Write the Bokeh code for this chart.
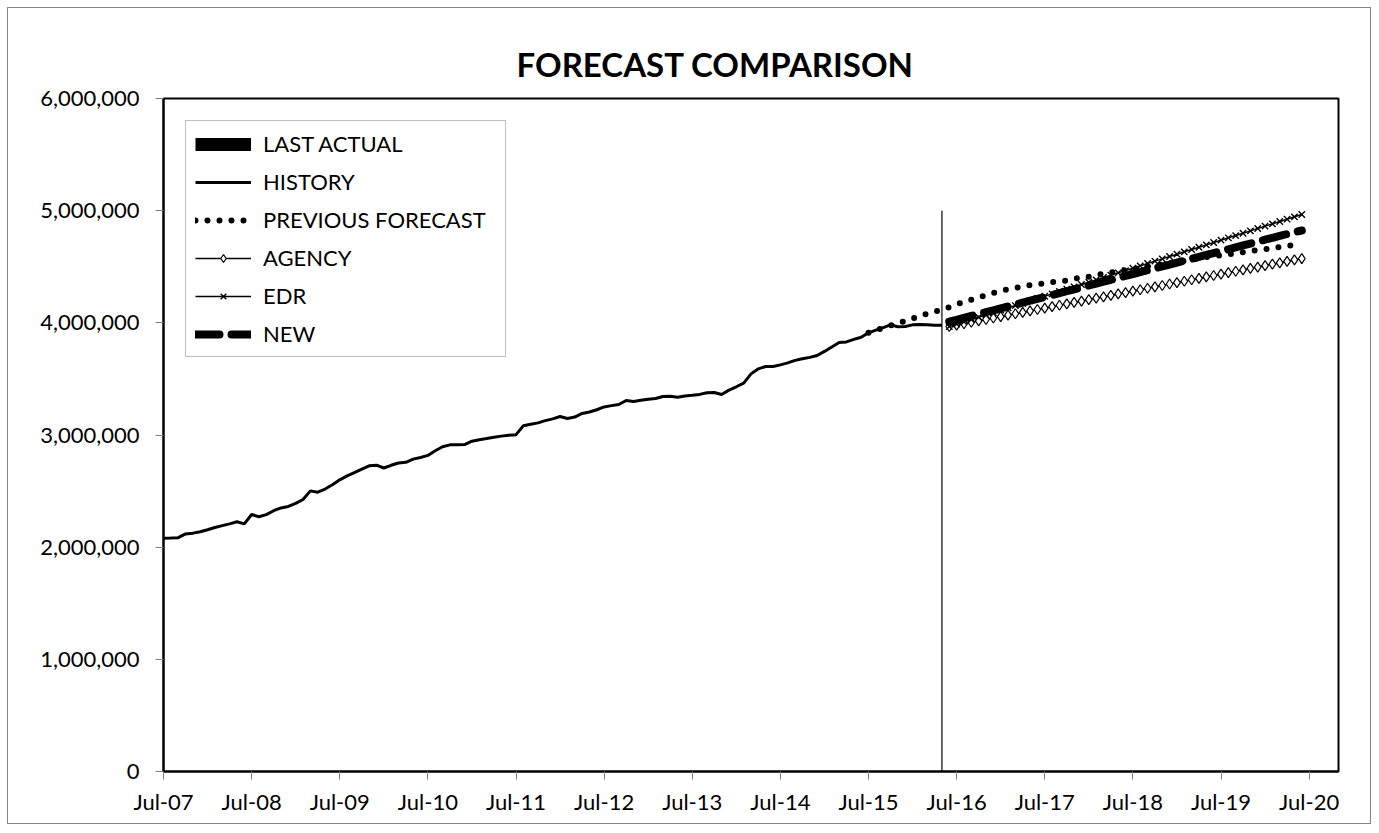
from bokeh.plotting import figure
from bokeh.models import Range1d, FixedTicker, NumeralTickFormatter, Legend, LegendItem
from bokeh.embed import file_html
from bokeh.resources import INLINE

# ---------------- data ----------------
x_tick_labels = ["Jul-07", "Jul-08", "Jul-09", "Jul-10", "Jul-11", "Jul-12", "Jul-13",
                 "Jul-14", "Jul-15", "Jul-16", "Jul-17", "Jul-18", "Jul-19", "Jul-20"]
y_ticks = [0, 1000000, 2000000, 3000000, 4000000, 5000000, 6000000]

# monthly, starting Jul-07 (month index 0)
history_start = 0
history = [2080000, 2082000, 2085000, 2118000, 2125000, 2138000, 2155000, 2175000, 2192000, 2208000,
           2226000, 2208000, 2291000, 2271000, 2290000, 2325000, 2350000, 2363000, 2390000, 2425000,
           2502000, 2490000, 2518000, 2556000, 2600000, 2635000, 2665000, 2695000, 2725000, 2731000,
           2706000, 2730000, 2750000, 2757000, 2785000, 2800000, 2818000, 2860000, 2895000, 2912000,
           2914000, 2915000, 2945000, 2958000, 2968000, 2980000, 2990000, 2998000, 3003000, 3082000,
           3095000, 3108000, 3128000, 3144000, 3165000, 3147000, 3160000, 3192000, 3205000, 3225000,
           3250000, 3262000, 3272000, 3308000, 3299000, 3310000, 3318000, 3325000, 3343000, 3346000,
           3337000, 3347000, 3354000, 3362000, 3376000, 3379000, 3361000, 3400000, 3430000, 3462000,
           3545000, 3590000, 3611000, 3611000, 3625000, 3643000, 3665000, 3680000, 3692000, 3709000,
           3745000, 3785000, 3825000, 3830000, 3852000, 3872000, 3911000, 3935000, 3958000, 3982000,
           3965000, 3968000, 3982000, 3985000, 3983000, 3979000, 3979000]

# previous forecast, starting Jul-15 (month index 96)
previous_start = 96
previous = [3911000, 3935000, 3955000, 3975000, 3998000, 4015000, 4038000, 4060000, 4082000, 4100000,
            4119000, 4140000, 4165000, 4186000, 4207000, 4226000, 4248000, 4266000, 4285000, 4298000,
            4309000, 4325000, 4335000, 4345000, 4352000, 4362000, 4370000, 4377000, 4392000, 4405000,
            4412000, 4425000, 4437000, 4448000, 4459000, 4470000, 4480000, 4491000, 4502000, 4512000,
            4522000, 4533000, 4543000, 4553000, 4563000, 4575000, 4585000, 4593000, 4603000, 4612000,
            4620000, 4630000, 4640000, 4648000, 4656000, 4666000, 4675000, 4684000, 4694000, 4703000]

# new forecasts, starting Jun-16 (month index 107)
forecast_start = 107
agency = [3967000, 3980000, 3992000, 4005000, 4018000, 4030000, 4043000, 4055000, 4068000, 4081000,
          4093000, 4106000, 4119000, 4131000, 4144000, 4157000, 4169000, 4182000, 4194000, 4207000,
          4220000, 4232000, 4245000, 4258000, 4270000, 4283000, 4295000, 4308000, 4321000, 4333000,
          4346000, 4359000, 4371000, 4384000, 4396000, 4409000, 4422000, 4434000, 4447000, 4460000,
          4472000, 4485000, 4497000, 4510000, 4523000, 4535000, 4548000, 4561000, 4573000]
edr = [3967000, 3988000, 4009000, 4029000, 4050000, 4071000, 4092000, 4113000, 4133000, 4154000,
       4175000, 4196000, 4217000, 4237000, 4258000, 4279000, 4300000, 4321000, 4342000, 4362000,
       4383000, 4404000, 4425000, 4446000, 4466000, 4487000, 4508000, 4529000, 4550000, 4570000,
       4591000, 4612000, 4633000, 4654000, 4674000, 4695000, 4716000, 4737000, 4758000, 4778000,
       4799000, 4820000, 4841000, 4862000, 4882000, 4903000, 4924000, 4945000, 4966000]
new = [4010000, 4027000, 4044000, 4061000, 4078000, 4095000, 4112000, 4129000, 4146000, 4163000,
       4180000, 4197000, 4214000, 4231000, 4248000, 4265000, 4282000, 4299000, 4316000, 4333000,
       4350000, 4367000, 4384000, 4401000, 4418000, 4435000, 4452000, 4469000, 4486000, 4503000,
       4520000, 4537000, 4554000, 4571000, 4588000, 4605000, 4622000, 4639000, 4656000, 4673000,
       4690000, 4707000, 4724000, 4741000, 4758000, 4775000, 4792000, 4809000, 4823000]

last_actual_month = 106   # May-16
last_actual_value = 5000000

# ---------------- figure ----------------
FONT = "Lato"
NAN = float("nan")

p = figure(width=1364, height=817, output_backend="svg", toolbar_location=None,
           x_range=Range1d(0, 160), y_range=Range1d(0, 6000000),
           min_border_left=155, min_border_right=34, min_border_top=90, min_border_bottom=54)
p.styles = {"border": "1px solid #868686", "margin": "7px 0 0 7px"}
p.background_fill_color = "white"
p.border_fill_color = "white"
p.outline_line_color = "black"
p.outline_line_width = 2
p.xgrid.visible = False
p.ygrid.visible = False

p.title.text = "FORECAST COMPARISON"
p.title.align = "left"
p.title.text_font = FONT
p.title.text_font_size = "33px"
p.title.text_font_style = "bold"
p.title.text_color = "black"
p.title.offset = 353
p.title.standoff = 30

def months(start, values):
    return list(range(start, start + len(values)))

r_hist = p.line(months(history_start, history), history, line_color="black", line_width=3)
r_prev = p.line(months(previous_start, previous), previous, line_color="black", line_width=6,
                line_dash="0 12", line_cap="round")
r_ag_l = p.line(months(forecast_start, agency), agency, line_color="black", line_width=1.5)
r_ag_m = p.scatter(months(forecast_start, agency), agency, marker="diamond", size=10,
                   fill_color="white", line_color="black", line_width=1.2)
r_edr_l = p.line(months(forecast_start, edr), edr, line_color="black", line_width=1.5)
r_edr_m = p.scatter(months(forecast_start, edr), edr, marker="x", size=9,
                    line_color="black", line_width=1.4)
r_new = p.line(months(forecast_start, new), new, line_color="black", line_width=8,
               line_dash="24 12", line_cap="round")
r_last = p.vbar(x=[last_actual_month], top=[last_actual_value], bottom=0, width=0.16,
                fill_color="black", line_color=None)
# legend key for the last-actual marker: a thick bar (its point is not drawn in the plot)
r_last_key = p.line(x=[last_actual_month, last_actual_month], y=[NAN, NAN],
                    line_color="black", line_width=13, line_cap="butt")

# axes
p.xaxis.ticker = FixedTicker(ticks=[12 * i for i in range(len(x_tick_labels))])
p.xaxis.major_label_overrides = {12 * i: lab for i, lab in enumerate(x_tick_labels)}
p.yaxis.ticker = FixedTicker(ticks=y_ticks)
p.yaxis.formatter = NumeralTickFormatter(format="0,0")
for ax in (p.xaxis[0], p.yaxis[0]):
    ax.axis_line_color = "black"
    ax.axis_line_width = 2
    ax.major_tick_line_color = "#808080"
    ax.major_tick_line_width = 1
    ax.major_tick_out = 8
    ax.major_tick_in = 0
    ax.minor_tick_line_color = None
    ax.major_label_text_font = FONT
    ax.major_label_text_font_size = "22px"
    ax.major_label_text_color = "black"
p.xaxis.major_label_standoff = 8
p.yaxis.major_label_standoff = 16

legend = Legend(items=[
    LegendItem(label="LAST ACTUAL", renderers=[r_last_key]),
    LegendItem(label="HISTORY", renderers=[r_hist]),
    LegendItem(label="PREVIOUS FORECAST", renderers=[r_prev]),
    LegendItem(label="AGENCY", renderers=[r_ag_l, r_ag_m]),
    LegendItem(label="EDR", renderers=[r_edr_l, r_edr_m]),
    LegendItem(label="NEW", renderers=[r_new]),
], location="top_left", margin=22, padding=9, spacing=11,
    glyph_width=56, glyph_height=20, label_height=20, label_standoff=12, label_width=233,
    label_text_font=FONT, label_text_font_size="22px", label_text_color="black",
    border_line_color="#808080", border_line_width=1,
    background_fill_color="white", background_fill_alpha=1)
p.add_layout(legend)

open("out.html", "w").write(file_html(p, INLINE))
